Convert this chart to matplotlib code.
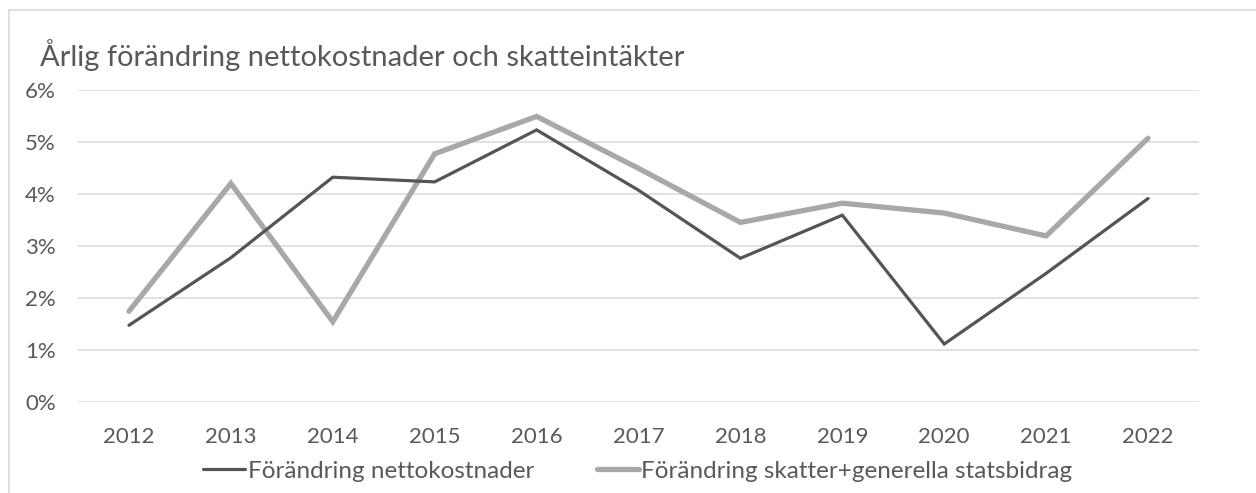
import matplotlib
matplotlib.use("Agg")
import matplotlib.pyplot as plt
from matplotlib.lines import Line2D

plt.rcParams['font.family'] = ['Lato', 'DejaVu Sans']

# data
years = ['2012', '2013', '2014', '2015', '2016', '2017', '2018', '2019', '2020', '2021', '2022']
netto = [1.47, 2.77, 4.32, 4.23, 5.23, 4.07, 2.76, 3.59, 1.11, 2.47, 3.91]
skatt = [1.74, 4.20, 1.54, 4.77, 5.49, 4.49, 3.45, 3.82, 3.63, 3.19, 5.07]
yticks = [0, 1, 2, 3, 4, 5, 6]
title = 'Årlig förändring nettokostnader och skatteintäkter'
namn_netto = 'Förändring nettokostnader'
namn_skatt = 'Förändring skatter+generella statsbidrag'

W, H = 1256, 493
fig = plt.figure(figsize=(W / 100, H / 100), dpi=100)
ax = fig.add_axes([78 / W, 1 - 401.7 / H, (1199 - 78) / W, (401.7 - 89.9) / H])

x = list(range(len(years)))
l1, = ax.plot(x, netto, color='#555555', lw=2.3, solid_capstyle='round', solid_joinstyle='miter', zorder=3)
l2, = ax.plot(x, skatt, color='#a8a8a8', lw=3.8, solid_capstyle='round', solid_joinstyle='miter', zorder=2)

ax.set_xlim(-0.5, len(years) - 0.5)
ax.set_ylim(0, 6)
ax.set_yticks(yticks)
ax.set_yticklabels(['%d%%' % v for v in yticks])
ax.set_xticks(x)
ax.set_xticklabels(years)
ax.grid(axis='y', color='#d9d9d9', lw=1.1)
ax.set_axisbelow(True)
for s in ax.spines.values():
    s.set_visible(False)
ax.tick_params(axis='both', length=0, labelsize=16, labelcolor='#595959')
ax.tick_params(axis='y', pad=16)
ax.tick_params(axis='x', pad=18)

fig.text(40 / W, 1 - 66 / H, title, fontsize=21, color='#595959', va='baseline', ha='left')

fig.legend([l1, l2], [namn_netto, namn_skatt], loc='center', bbox_to_anchor=(638 / W, 1 - 471 / H),
           ncol=2, frameon=False, fontsize=17.5, labelcolor='#595959',
           handlelength=1.7, handletextpad=0.12, columnspacing=2.6, borderpad=0)

# ramen runt diagrammet
fig.add_artist(Line2D([9 / W, 1], [1 - 10 / H, 1 - 10 / H], transform=fig.transFigure, color='#d9d9d9', lw=1.2))
fig.add_artist(Line2D([9 / W, 9 / W], [1 - 10 / H, 0], transform=fig.transFigure, color='#d9d9d9', lw=1.2))

fig.savefig('out.png', dpi=100)
